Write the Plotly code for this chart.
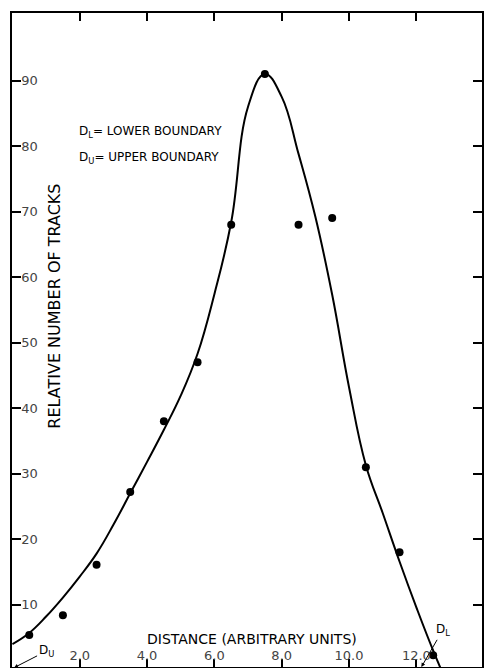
import plotly.graph_objects as go

# measured points
dist = [0.5, 1.5, 2.5, 3.5, 4.5, 5.5, 6.5, 7.5, 8.5, 9.5, 10.5, 11.5, 12.5]
tracks = [5.4, 8.4, 16.1, 27.2, 38.0, 47.0, 68.0, 91.0, 68.0, 69.0, 31.0, 18.0, 2.3]

# hand-drawn fitted curve, every 0.5 unit
curve_x = [0.0, 0.5, 1.0, 1.5, 2.0, 2.5, 3.0, 3.5, 4.0, 4.5, 5.0, 5.5, 6.0, 6.5,
           7.0, 7.5, 8.0, 8.5, 9.0, 9.5, 10.0, 10.5, 11.0, 11.5, 12.0, 12.5, 13.0]
curve_y = [4.0, 5.7, 8.2, 11.1, 14.3, 17.8, 22.2, 27.0, 31.8, 36.7, 41.9, 48.3, 57.4, 68.4,
           86.0, 91.0, 87.5, 78.8, 69.2, 57.3, 43.2, 31.3, 24.0, 16.6, 9.6, 3.0, -3.0]

x_ticks = [2, 4, 6, 8, 10, 12]
x_labels = ["2.0", "4.0", "6.0", "8.0", "10.0", "12.0"]
y_ticks = [10, 20, 30, 40, 50, 60, 70, 80, 90]
y_labels = ["10", "20", "30", "40", "50", "60", "70", "80", "90"]

FONT = "DejaVu Sans"

fig = go.Figure()
fig.add_trace(go.Scatter(x=curve_x, y=curve_y, mode="lines",
                         line=dict(color="black", width=2, shape="spline", smoothing=1.2),
                         hoverinfo="skip", showlegend=False))
fig.add_trace(go.Scatter(x=dist, y=tracks, mode="markers",
                         marker=dict(color="black", size=8),
                         showlegend=False))

annotations = [
    dict(x=1.91, y=82.2, text="D<sub>L</sub>= LOWER BOUNDARY", xanchor="left", yanchor="middle",
         showarrow=False, font=dict(size=12)),
    dict(x=1.91, y=78.2, text="D<sub>U</sub>= UPPER BOUNDARY", xanchor="left", yanchor="middle",
         showarrow=False, font=dict(size=12)),
    dict(x=7.13, y=4.8, text="DISTANCE (ARBITRARY UNITS)", showarrow=False,
         xanchor="center", yanchor="middle", font=dict(size=14)),
    dict(x=1.26, y=55.6, text="RELATIVE NUMBER OF TRACKS", showarrow=False, textangle=-90,
         xanchor="center", yanchor="middle", font=dict(size=16)),
    dict(x=0.05, y=0.4, ax=1.0, ay=2.9, axref="x", ayref="y", text="D<sub>U</sub>",
         showarrow=True, arrowhead=2, arrowsize=0.8, arrowwidth=1, arrowcolor="black",
         font=dict(size=12)),
    dict(x=12.15, y=0.5, ax=12.78, ay=6.1, axref="x", ayref="y", text="D<sub>L</sub>",
         showarrow=True, arrowhead=2, arrowsize=0.8, arrowwidth=1, arrowcolor="black",
         font=dict(size=12)),
]

fig.update_layout(
    width=484, height=668,
    margin=dict(l=12, r=0, t=13, b=1),
    paper_bgcolor="white", plot_bgcolor="white",
    font=dict(family=FONT, color="black"),
    annotations=annotations,
    showlegend=False,
)
fig.update_xaxes(range=[-0.012, 13.95], tickvals=x_ticks, ticktext=x_labels,
                 ticks="inside", ticklen=8, tickwidth=1.5, tickcolor="black",
                 ticklabelposition="inside", ticklabelstandoff=-4, tickfont=dict(size=13),
                 showline=True, linecolor="black", linewidth=1.5, mirror="ticks",
                 showgrid=False, zeroline=False)
fig.update_yaxes(range=[0.5, 100.3], tickvals=y_ticks, ticktext=y_labels,
                 ticks="inside", ticklen=9, tickwidth=1.5, tickcolor="black",
                 ticklabelposition="inside", tickfont=dict(size=13),
                 showline=True, linecolor="black", linewidth=1.5, mirror="ticks",
                 showgrid=False, zeroline=False)

fig.write_html("out.html", config={"displayModeBar": False},
               post_script="document.body.style.margin='0';")
